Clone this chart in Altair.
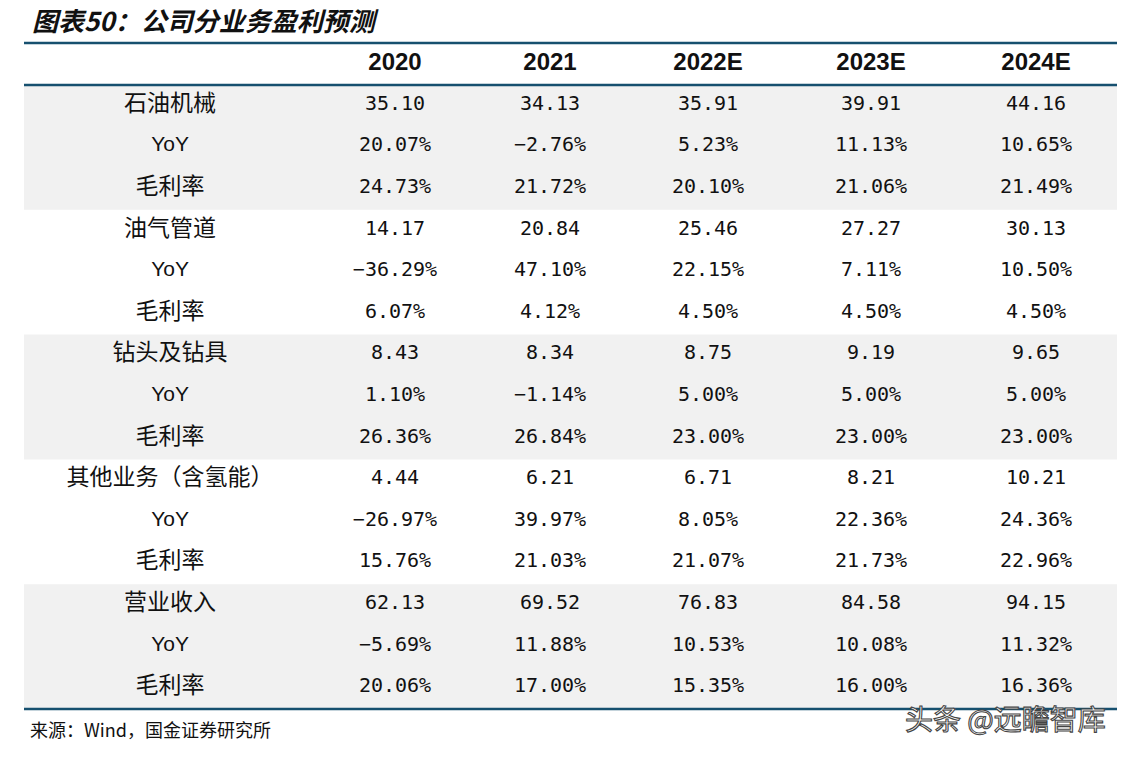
import altair as alt
import pandas as pd

# ---------------- data ----------------
years = ["2020", "2021", "2022E", "2023E", "2024E"]
segments = ["石油机械", "油气管道", "钻头及钻具", "其他业务（含氢能）", "营业收入"]
sub_labels = ["YoY", "毛利率"]

oil_machinery_rev = [35.10, 34.13, 35.91, 39.91, 44.16]
oil_machinery_yoy = [20.07, -2.76, 5.23, 11.13, 10.65]
oil_machinery_gm = [24.73, 21.72, 20.10, 21.06, 21.49]

pipeline_rev = [14.17, 20.84, 25.46, 27.27, 30.13]
pipeline_yoy = [-36.29, 47.10, 22.15, 7.11, 10.50]
pipeline_gm = [6.07, 4.12, 4.50, 4.50, 4.50]

drill_rev = [8.43, 8.34, 8.75, 9.19, 9.65]
drill_yoy = [1.10, -1.14, 5.00, 5.00, 5.00]
drill_gm = [26.36, 26.84, 23.00, 23.00, 23.00]

other_rev = [4.44, 6.21, 6.71, 8.21, 10.21]
other_yoy = [-26.97, 39.97, 8.05, 22.36, 24.36]
other_gm = [15.76, 21.03, 21.07, 21.73, 22.96]

total_rev = [62.13, 69.52, 76.83, 84.58, 94.15]
total_yoy = [-5.69, 11.88, 10.53, 10.08, 11.32]
total_gm = [20.06, 17.00, 15.35, 16.00, 16.36]

title_text = "图表50：公司分业务盈利预测"
source_text = "来源：Wind，国金证券研究所"
watermark_text = "头条 @远瞻智库"

# ---------------- layout (page pixel coordinates) ----------------
W, H = 1117, 742
TABLE_L, TABLE_R = 24, 1117
TOP_LINE, HEAD_LINE = 43, 85
ROW_H = 41.6
LABEL_X = 170
COL_X = [395, 550, 708, 871, 1036]
LINE_COLOR = "#16506f"
BAND_COLOR = "#f1f1f1"

groups = [
    (oil_machinery_rev, oil_machinery_yoy, oil_machinery_gm),
    (pipeline_rev, pipeline_yoy, pipeline_gm),
    (drill_rev, drill_yoy, drill_gm),
    (other_rev, other_yoy, other_gm),
    (total_rev, total_yoy, total_gm),
]


def fmt_num(v):
    return f"{v:.2f}".replace("-", "−")


def fmt_pct(v):
    return f"{v:.2f}%".replace("-", "−")


label_rows, yoy_rows, value_rows, band_rows = [], [], [], []
for g, (seg, (rev, yoy, gm)) in enumerate(zip(segments, groups)):
    for s, (lab, vals, f) in enumerate(
        [(seg, rev, fmt_num), (sub_labels[0], yoy, fmt_pct), (sub_labels[1], gm, fmt_pct)]
    ):
        k = g * 3 + s
        yc = HEAD_LINE + ROW_H * (k + 0.5) - 2
        (yoy_rows if lab == "YoY" else label_rows).append({"text": lab, "x": LABEL_X, "y": yc})
        for c, v in enumerate(vals):
            value_rows.append({"text": f(v), "x": COL_X[c], "y": yc})
    if g % 2 == 0:
        band_rows.append({
            "x": TABLE_L, "x2": TABLE_R,
            "y": HEAD_LINE + ROW_H * g * 3, "y2": HEAD_LINE + ROW_H * (g * 3 + 3),
        })

bottom_line = HEAD_LINE + ROW_H * 15
header_df = pd.DataFrame({"text": years, "x": COL_X, "y": [63] * len(years)})
labels_df = pd.DataFrame(label_rows)
yoy_df = pd.DataFrame(yoy_rows)
values_df = pd.DataFrame(value_rows)
bands_df = pd.DataFrame(band_rows)
lines_df = pd.DataFrame({"x": [TABLE_L] * 3, "x2": [TABLE_R] * 3,
                         "y": [TOP_LINE, HEAD_LINE, bottom_line]})

xs = alt.Scale(domain=[8, 8 + W], range=[0, W])
ys = alt.Scale(domain=[8, 8 + H], range=[0, H])


def X(f="x"):
    return alt.X(f"{f}:Q", scale=xs, axis=None)


def Y(f="y"):
    return alt.Y(f"{f}:Q", scale=ys, axis=None)


bands = alt.Chart(bands_df).mark_rect(color=BAND_COLOR).encode(
    x=X(), x2="x2:Q", y=Y(), y2="y2:Q"
)
lines = alt.Chart(lines_df).mark_rule(color=LINE_COLOR, strokeWidth=2.5).encode(
    x=X(), x2="x2:Q", y=Y()
)
header = alt.Chart(header_df).mark_text(
    font="Liberation Sans", fontSize=24, fontWeight="bold", color="#111",
    align="center", baseline="middle"
).encode(x=X(), y=Y(), text="text:N")
labels = alt.Chart(labels_df).mark_text(
    font="Noto Sans CJK SC", fontSize=23, color="#111",
    align="center", baseline="middle"
).encode(x=X(), y=Y(), text="text:N")
yoy_labels = alt.Chart(yoy_df).mark_text(
    font="Liberation Sans", fontSize=21, color="#111",
    align="center", baseline="middle"
).encode(x=X(), y=Y(), text="text:N")
values = alt.Chart(values_df).mark_text(
    font="DejaVu Sans Mono", fontSize=20, color="#111",
    align="center", baseline="middle"
).encode(x=X(), y=Y(), text="text:N")

title = alt.Chart(pd.DataFrame({"text": [title_text], "x": [32], "y": [23]})).mark_text(
    font="Noto Sans CJK SC", fontSize=26, fontWeight="bold", fontStyle="italic",
    color="#111", align="left", baseline="middle"
).encode(x=X(), y=Y(), text="text:N")
source = alt.Chart(pd.DataFrame({"text": [source_text], "x": [30], "y": [732]})).mark_text(
    font="Noto Sans CJK SC", fontSize=18, color="#111",
    align="left", baseline="middle"
).encode(x=X(), y=Y(), text="text:N")
watermark = alt.Chart(pd.DataFrame({"text": [watermark_text], "x": [905], "y": [722]})).mark_text(
    font="Noto Sans CJK SC", fontSize=28, color="#ffffff", stroke="#444444",
    strokeWidth=1.1, align="left", baseline="middle"
).encode(x=X(), y=Y(), text="text:N")

chart = alt.layer(bands, lines, header, labels, yoy_labels, values, title, source, watermark).properties(
    width=W, height=H, autosize=alt.AutoSizeParams(type="none"), padding=0,
    background="#ffffff"
).configure_view(stroke=None)

chart.save("out.html", embed_options={"renderer": "svg", "actions": False})
